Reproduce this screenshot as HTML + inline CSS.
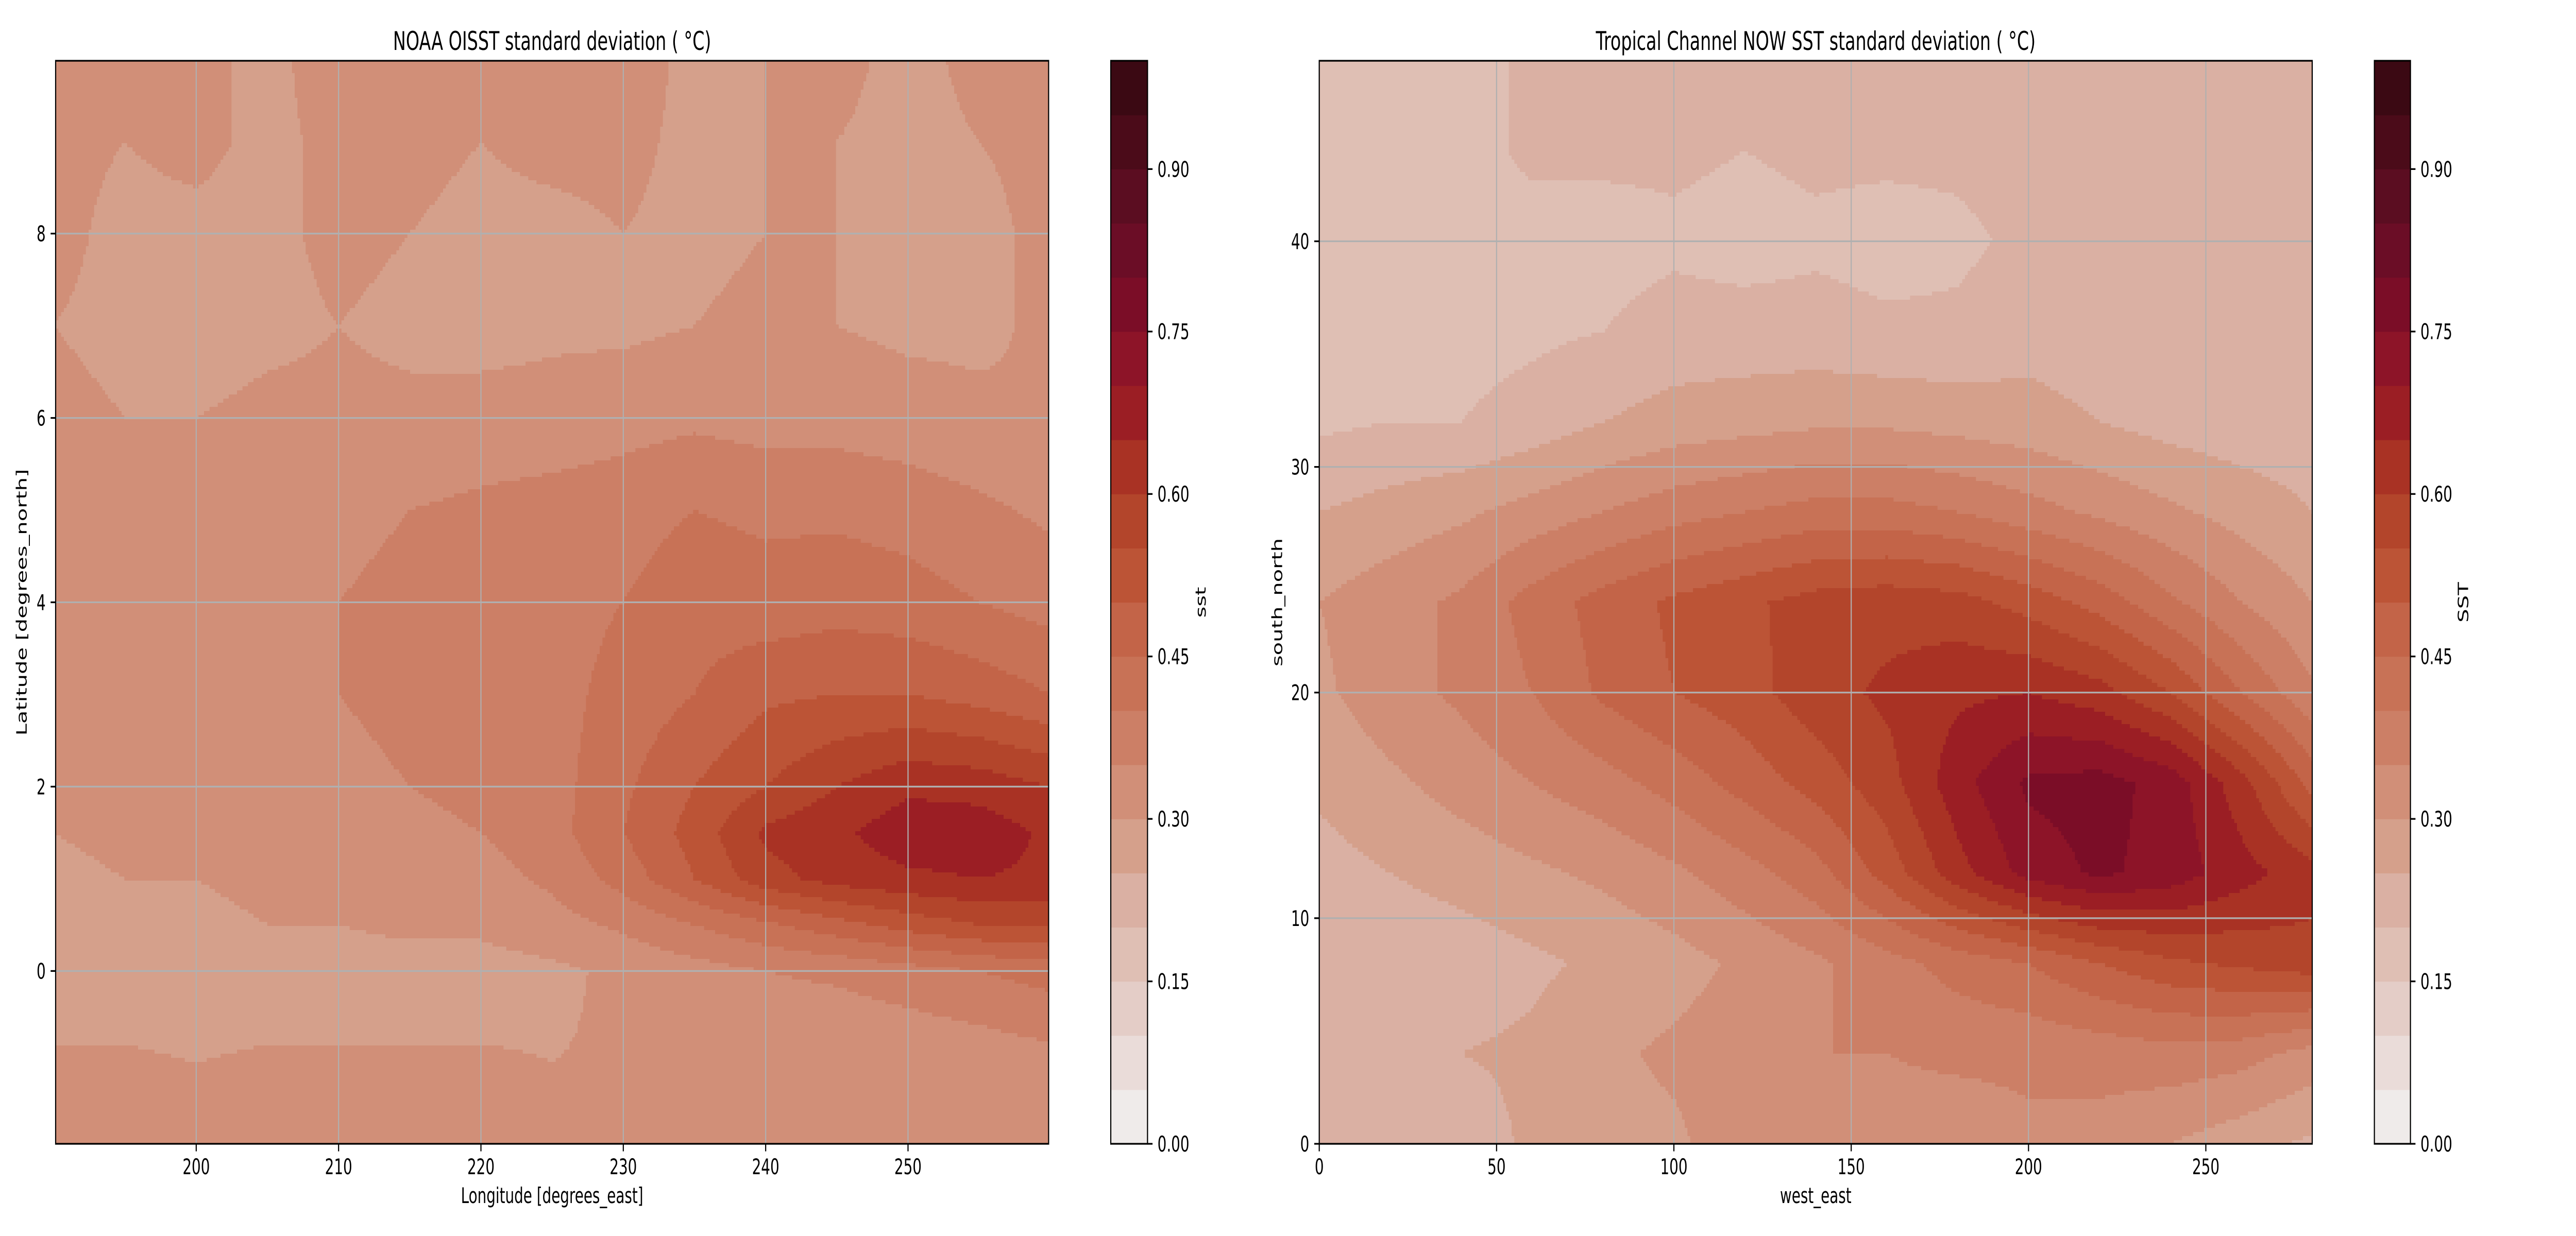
<!DOCTYPE html>
<html><head><meta charset="utf-8"><style>
html,body{margin:0;padding:0;background:#fff;width:100%;height:100%;overflow:hidden;}
svg{display:block;width:100vw;height:100vh;font-family:"DejaVu Sans","Liberation Sans",sans-serif;}
</style></head><body>
<svg id="fig" viewBox="0 0 7500 2400" preserveAspectRatio="none" xmlns="http://www.w3.org/2000/svg">
<rect width="7500" height="2400" fill="#fff"/>
<g id="left"></g>
<g id="right"></g>
</svg>
<script>
// ---- colour levels ----
const levelColors = ["#efebea","#eadcd9","#e4cdc7","#dfbfb4","#dab0a3","#d5a08b","#d18f78","#cc7f66","#c87256","#c36448","#bc5436","#b3452b","#a93224","#9b1e24","#8d1428","#7b0d27","#6b0d26","#5b0d21","#4b0b19","#3b0913"];
const cbarTicks = ["0.00","0.15","0.30","0.45","0.60","0.75","0.90"];

// ---- left chart data (NOAA OISST) ----
const leftLon = [190,195,200,205,210,215,220,225,230,235,240,245,250,255,260];
const leftLat = [10,9,8,7,6,5,4,3,2,1.5,1,0.5,0,-1,-2];
const leftVals = [
[.30,.31,.31,.29,.32,.32,.32,.32,.32,.29,.30,.31,.29,.31,.32],
[.31,.30,.31,.29,.31,.31,.30,.31,.31,.29,.30,.30,.29,.30,.31],
[.31,.29,.29,.29,.31,.30,.29,.29,.30,.29,.30,.30,.29,.29,.31],
[.30,.29,.28,.29,.30,.29,.28,.29,.29,.30,.31,.30,.29,.29,.31],
[.31,.30,.30,.31,.31,.31,.32,.32,.33,.34,.33,.33,.32,.31,.30],
[.32,.32,.32,.33,.34,.35,.36,.37,.38,.40,.39,.39,.38,.36,.34],
[.33,.34,.34,.34,.35,.36,.37,.38,.40,.43,.42,.43,.42,.40,.38],
[.32,.33,.34,.34,.35,.36,.37,.38,.42,.45,.49,.50,.50,.48,.45],
[.31,.31,.32,.32,.34,.35,.36,.38,.44,.50,.55,.60,.64,.63,.60],
[.30,.31,.31,.32,.33,.34,.35,.38,.45,.52,.61,.64,.68,.68,.64],
[.29,.30,.30,.31,.31,.32,.33,.36,.42,.50,.58,.62,.64,.65,.64],
[.28,.29,.29,.30,.30,.31,.31,.33,.36,.40,.44,.48,.52,.55,.56],
[.28,.28,.28,.28,.28,.28,.28,.29,.31,.33,.35,.36,.38,.40,.42],
[.305,.305,.30,.305,.305,.305,.305,.30,.305,.31,.305,.30,.305,.315,.33],
[.315,.315,.315,.315,.315,.315,.315,.315,.32,.33,.32,.315,.315,.315,.315]];
const leftXTicks = [200,210,220,230,240,250];
const leftYTicks = [0,2,4,6,8];

// ---- right chart data (Tropical Channel) ----
const rightX = [0,20,40,60,80,100,120,140,160,180,200,220,240,260,280];
const rightY = [48,44,40,36,32,28,24,20,16,12,8,4,0];
const rightVals = [
[.20,.19,.18,.21,.21,.21,.21,.21,.21,.21,.21,.23,.24,.24,.25],
[.19,.19,.18,.21,.21,.21,.20,.21,.21,.21,.22,.23,.24,.24,.25],
[.18,.18,.18,.18,.18,.19,.18,.19,.18,.19,.21,.22,.23,.23,.24],
[.18,.18,.18,.19,.20,.22,.22,.22,.21,.21,.23,.22,.22,.22,.23],
[.19,.20,.20,.22,.25,.27,.28,.29,.29,.28,.27,.25,.23,.22,.22],
[.25,.27,.29,.32,.35,.38,.40,.42,.42,.40,.37,.34,.31,.28,.25],
[.30,.33,.36,.42,.47,.51,.54,.57,.58,.57,.53,.48,.41,.35,.30],
[.29,.33,.36,.40,.46,.50,.53,.58,.61,.64,.65,.62,.55,.45,.36],
[.26,.29,.32,.35,.38,.42,.47,.52,.58,.68,.76,.77,.73,.62,.48],
[.23,.25,.27,.29,.31,.34,.38,.43,.52,.63,.72,.76,.73,.67,.62],
[.20,.21,.22,.24,.26,.28,.31,.34,.38,.42,.45,.50,.54,.56,.58],
[.22,.23,.25,.26,.29,.31,.33,.35,.35,.36,.36,.37,.38,.37,.33],
[.21,.22,.22,.26,.28,.29,.33,.34,.33,.32,.34,.33,.30,.27,.24]];
const rightXTicks = [0,50,100,150,200,250];
const rightYTicks = [0,10,20,30,40];

const NS="http://www.w3.org/2000/svg";
function mk(tag, attrs, parent){const e=document.createElementNS(NS,tag);for(const k in attrs)e.setAttribute(k,attrs[k]);parent.appendChild(e);return e;}

function locate(arr, v){
  const n=arr.length; const asc=arr[n-1]>arr[0];
  for(let i=0;i<n-1;i++){const a=arr[i],b=arr[i+1];
    if(asc? (v>=a&&v<=b):(v<=a&&v>=b)) return [i,(v-a)/(b-a)];}
  if(asc? v<arr[0] : v>arr[0]) return [0,0];
  return [n-2,1];
}
function sample(xs,ys,vals,x,y){
  const [i,tx]=locate(xs,x); const [j,ty]=locate(ys,y);
  const v00=vals[j][i],v01=vals[j][i+1],v10=vals[j+1][i],v11=vals[j+1][i+1];
  return (v00*(1-tx)+v01*tx)*(1-ty)+(v10*(1-tx)+v11*tx)*ty;
}

function panel(g, cfg){
  const {x0,x1,y0,y1,xmin,xmax,ymin,ymax,xs,ys,vals,xticks,yticks,title,xlabel,ylabel,cbx0,cbx1,cblabel,cblabelX,ylabelX} = cfg;
  const sx=v=>x0+(v-xmin)/(xmax-xmin)*(x1-x0);
  const sy=v=>y1-(v-ymin)/(ymax-ymin)*(y1-y0);
  const field=mk('g',{},g);
  
  
  const cell=8;
  function flush(xa,xb,py,lev){
    const r=mk('rect',{x:xa,y:py,width:xb-xa+0.6,height:Math.min(cell,y1-py)+0.6,fill:levelColors[lev]},field);
    
    
  }
  for(let py=y0;py<y1;py+=cell){
    const yv=ymax-(Math.min(py+cell/2,y1)-y0)/(y1-y0)*(ymax-ymin);
    let runStart=x0,runLev=-1;
    for(let px=x0;px<x1;px+=cell){
      const xv=xmin+(Math.min(px+cell/2,x1)-x0)/(x1-x0)*(xmax-xmin);
      const lev=Math.max(0,Math.min(19,Math.floor(sample(xs,ys,vals,xv,yv)/0.05+1e-9)));
      if(lev!==runLev){
        if(runLev>=0) flush(runStart,px,py,runLev);
        runStart=px;runLev=lev;}
    }
    if(runLev>=0) flush(runStart,x1,py,runLev);
  }
  const grid=mk('g',{stroke:'#b0b0b0','stroke-width':3.3},g);
  
  
  xticks.forEach(t=>mk('line',{x1:sx(t),x2:sx(t),y1:y0,y2:y1},grid));
  yticks.forEach(t=>mk('line',{x1:x0,x2:x1,y1:sy(t),y2:sy(t)},grid));
  const sp=mk('rect',{x:x0,y:y0,width:x1-x0,height:y1-y0,fill:'none',stroke:'#000','stroke-width':3.3},g);
  
  
  const xt=mk('g',{},g);
  
  
  xticks.forEach(t=>{mk('line',{x1:sx(t),x2:sx(t),y1:y1,y2:y1+14.6,stroke:'#000','stroke-width':3.3},xt);
    const tx=mk('text',{x:sx(t),y:2280,'font-size':41.7,'text-anchor':'middle'},xt);tx.textContent=t;
    
    });
  const yt=mk('g',{},g);
  
  
  yticks.forEach(t=>{mk('line',{x1:x0-14.6,x2:x0,y1:sy(t),y2:sy(t),stroke:'#000','stroke-width':3.3},yt);
    const tx=mk('text',{x:x0-29,y:sy(t)+15,'font-size':41.7,'text-anchor':'end'},yt);tx.textContent=t;
    
    });
  const tt=mk('text',{x:(x0+x1)/2,y:97,'font-size':50,'text-anchor':'middle'},g);tt.textContent=title;
  
  
  const xl=mk('text',{x:(x0+x1)/2,y:2336,'font-size':41.7,'text-anchor':'middle'},g);xl.textContent=xlabel;
  
  
  const yc=(y0+y1)/2;
  const yl=mk('text',{x:ylabelX,y:yc,'font-size':41.7,'text-anchor':'middle',transform:`rotate(-90 ${ylabelX} ${yc})`},g);yl.textContent=ylabel;
  
  
  const cb=mk('g',{},g);
  
  
  const ch=(y1-y0)/20;
  levelColors.forEach((c,i)=>{const r=mk('rect',{x:cbx0,y:y1-(i+1)*ch,width:cbx1-cbx0,height:ch+0.6,fill:c},cb);
    
    });
  mk('rect',{x:cbx0,y:y0,width:cbx1-cbx0,height:y1-y0,fill:'none',stroke:'#000','stroke-width':3.3},cb);
  cbarTicks.forEach(t=>{const yy=y1-parseFloat(t)*(y1-y0);
    mk('line',{x1:cbx1,x2:cbx1+14.6,y1:yy,y2:yy,stroke:'#000','stroke-width':3.3},cb);
    const tx=mk('text',{x:cbx1+29,y:yy+15,'font-size':41.7},cb);tx.textContent=t;
    
    });
  const cl=mk('text',{x:cblabelX,y:yc,'font-size':41.7,'text-anchor':'middle',transform:`rotate(-90 ${cblabelX} ${yc})`},cb);cl.textContent=cblabel;
  
  
}

panel(document.getElementById('left'),{x0:162,x1:3053,y0:118,y1:2221,xmin:190.125,xmax:259.875,ymin:-1.875,ymax:9.875,
  xs:leftLon,ys:leftLat,vals:leftVals,xticks:leftXTicks,yticks:leftYTicks,
  title:"NOAA OISST standard deviation ( °C)",xlabel:"Longitude [degrees_east]",ylabel:"Latitude [degrees_north]",
  cbx0:3234,cbx1:3341,cblabel:"sst",cblabelX:3510,ylabelX:77});
panel(document.getElementById('right'),{x0:3841,x1:6732,y0:118,y1:2221,xmin:0,xmax:280,ymin:0,ymax:48,
  xs:rightX,ys:rightY,vals:rightVals,xticks:rightXTicks,yticks:rightYTicks,
  title:"Tropical Channel NOW SST standard deviation ( °C)",xlabel:"west_east",ylabel:"south_north",
  cbx0:6913,cbx1:7018,cblabel:"SST",cblabelX:7186,ylabelX:3733});
</script>
</body></html>
